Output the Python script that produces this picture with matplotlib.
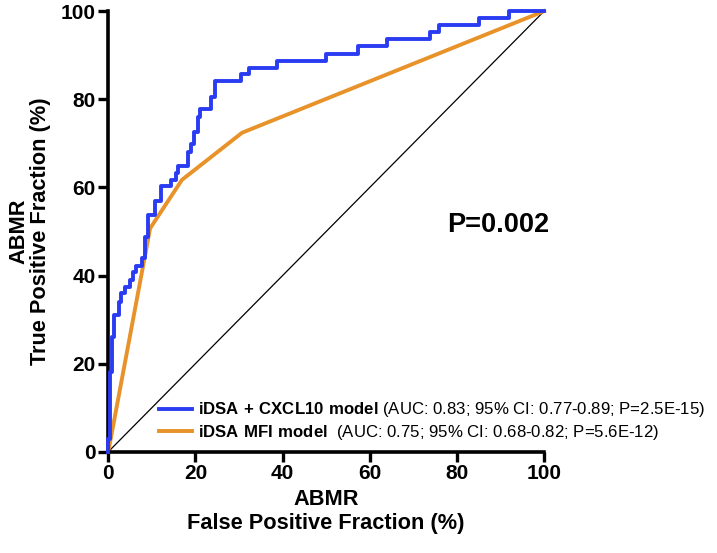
import matplotlib
matplotlib.use("Agg")
import matplotlib.pyplot as plt

plt.rcParams["font.family"] = ["Liberation Sans", "DejaVu Sans"]
plt.rcParams["mathtext.fontset"] = "custom"
plt.rcParams["mathtext.rm"] = "Liberation Sans"
plt.rcParams["mathtext.bf"] = "Liberation Sans:bold"

# iDSA + CXCL10 model ROC (step corners: FPR where curve rises, TPR reached)
cxcl_fpr = [0, 0, 0.4, 0.8, 1.4, 2.4, 3.0, 3.9, 5.0, 5.6, 6.4, 7.7, 8.5, 9.1,
            10.8, 12.2, 14.4, 15.6, 15.9, 18.4, 19.0, 19.6, 20.5, 21.1, 23.6,
            24.5, 30.5, 32.3, 38.7, 49.9, 57.2, 63.9, 73.9, 75.8, 85.1, 92.0, 100]
cxcl_tpr = [0, 3.0, 18.2, 26.1, 31.1, 34.1, 36.0, 37.5, 39.0, 40.9, 42.2, 43.9,
            48.8, 53.7, 56.8, 60.2, 61.7, 63.2, 64.9, 68.1, 69.8, 72.6, 76.0,
            77.7, 80.6, 84.1, 85.7, 87.1, 88.7, 90.3, 92.1, 93.7, 95.3, 96.8,
            98.4, 100, 100]

# iDSA MFI model ROC
mfi_fpr = [0, 9.6, 16.9, 30.7, 100]
mfi_tpr = [0, 50.7, 61.7, 72.4, 100]

ref_line = [0, 100]
ticks = [0, 20, 40, 60, 80, 100]

C_BLUE = "#2a3cf2"
C_ORANGE = "#e8922a"

fig = plt.figure(figsize=(7.17, 5.53), dpi=100)
ax = fig.add_axes([0.151, 0.183, 0.608, 0.797])

ax.plot(ref_line, ref_line, color="black", lw=0.9, clip_on=False, zorder=1)
ax.plot(mfi_fpr, mfi_tpr, color=C_ORANGE, lw=2.8, clip_on=False, zorder=2,
        label=r"$\mathbf{iDSA\ MFI\ model}$  (AUC: 0.75; 95% CI: 0.68-0.82; P=5.6E-12)")
ax.plot(cxcl_fpr, cxcl_tpr, color=C_BLUE, lw=2.8, drawstyle="steps-post",
        clip_on=False, zorder=3,
        label=r"$\mathbf{iDSA\ {+}\ CXCL10\ model}$ (AUC: 0.83; 95% CI: 0.77-0.89; P=2.5E-15)")

ax.set_xlim(0, 100)
ax.set_ylim(0, 100)
ax.set_xticks(ticks)
ax.set_yticks(ticks)

for side in ("top", "right"):
    ax.spines[side].set_visible(False)
for side in ("left", "bottom"):
    ax.spines[side].set_linewidth(2.6)
ax.tick_params(direction="out", length=7, width=2.4, labelsize=15, pad=2)
for lab in ax.get_xticklabels() + ax.get_yticklabels():
    lab.set_fontweight("bold")

ax.set_xlabel("ABMR\nFalse Positive Fraction (%)", fontsize=15.7, fontweight="bold",
              labelpad=4, linespacing=1.2)
ax.set_ylabel("ABMR\nTrue Positive Fraction (%)", fontsize=15.7, fontweight="bold",
              labelpad=7, linespacing=1.05)

ax.text(89.5, 51.5, "P=0.002", fontsize=19.5, fontweight="bold", ha="center", va="center")

handles, labels = ax.get_legend_handles_labels()
ax.legend(handles[::-1], labels[::-1], loc="lower left",
          bbox_to_anchor=(0.117, 0.022), frameon=False, fontsize=12.1,
          handlelength=1.95, handletextpad=0.35, labelspacing=0.22,
          borderpad=0, borderaxespad=0)

fig.savefig("out.png", dpi=100, facecolor="white")
